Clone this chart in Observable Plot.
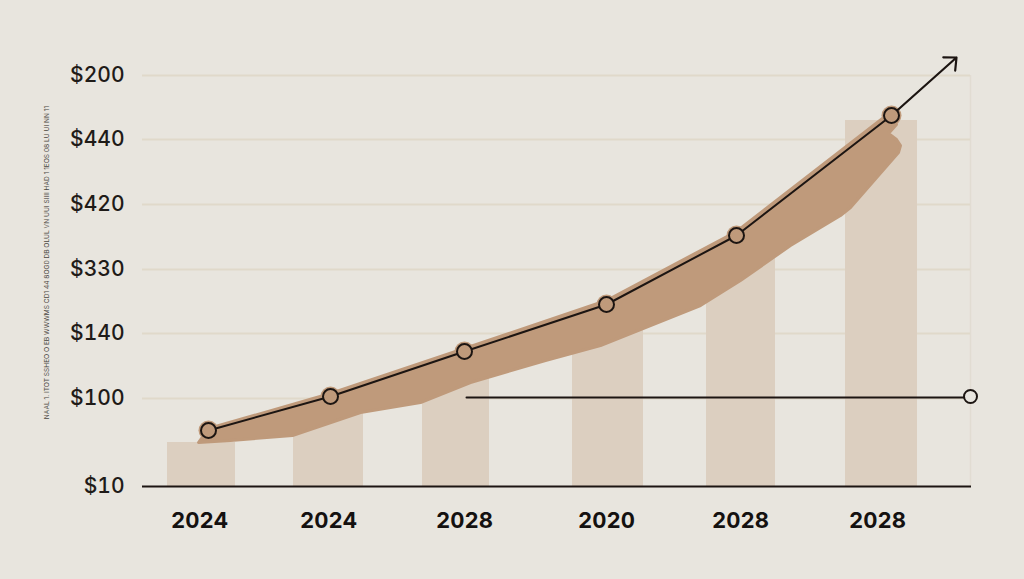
<!DOCTYPE html>
<html>
<head>
<meta charset="utf-8">
<script src="https://cdn.jsdelivr.net/npm/d3@7"></script>
<script src="https://cdn.jsdelivr.net/npm/@observablehq/plot@0.6"></script>
<style>
html,body{margin:0;padding:0;background:#e8e5de;overflow:hidden}
svg{display:block}
</style>
</head>
<body>
<div id="chart"></div>
<script>
// All vertical values are read as height above the baseline; horizontal values as position on the time axis.
const yTicks = [0, 88, 153, 217, 282, 347, 411];
const yLabels = ["$10", "$100", "$140", "$330", "$420", "$440", "$200"];
const xTicks = [199, 328, 464, 606, 740, 877];
const xLabels = ["2024", "2024", "2028", "2020", "2028", "2028"];

const barStart = [167, 293, 422, 572, 706, 845];
const barEnd = [235, 363, 489, 643, 775, 917];
const barValue = [44, 74, 108, 156, 231, 366];

const lineX = [208, 330, 464, 606, 736, 891];
const lineY = [56, 90, 135, 182, 251, 371];

const bandX = [198, 208, 330, 464, 606, 736, 891, 896, 888, 896, 900, 898, 850, 840, 790, 740, 700, 600, 545, 470, 420, 360, 292, 230];
const bandY = [44, 58, 93, 138, 186, 255, 375, 362, 353, 347, 341, 334, 279, 271, 241, 206, 181, 141, 126, 104, 84, 74, 51, 46];

const arrowFrom = [891, 371];
const arrowTo = [956, 429];
const targetX = [466, 970];
const targetY = [89, 89];
const targetDot = [970, 90];
const captionText = "NAAL 1. ITOT SSHEO O EB WWWMS CD1 44 8OG0 DB OLUL VN UUI SIIII HAD 1 1EOS 08 LU UI NN 11";

const barColor = "#dccfc0", bandColor = "#bf9a7b", gridColor = "#e0d9ca", ink = "#1c1512", bg = "#e8e5de";
const font = "Inter, 'Noto Sans', sans-serif";

const bars = barStart.map((s, i) => ({s, e: barEnd[i], v: barValue[i]}));
const line = lineX.map((x, i) => ({x, y: lineY[i]}));
const band = bandX.map((x, i) => ({x, y: bandY[i]}));
const target = targetX.map((x, i) => ({x, y: targetY[i]}));
const yMap = new Map(yTicks.map((t, i) => [t, yLabels[i]]));
const xMap = new Map(xTicks.map((t, i) => [t, xLabels[i]]));

const plot = Plot.plot({
  width: 1024, height: 579,
  marginLeft: 142, marginRight: 54, marginTop: 57, marginBottom: 93,
  x: {domain: [142, 970], axis: null},
  y: {domain: [0, 429], axis: null},
  style: {background: bg, fontFamily: font, overflow: "visible"},
  marks: [
    Plot.ruleX([970], {y1: 0, y2: 411, stroke: "#e1dcd2", strokeWidth: 1.5}),
    Plot.ruleY(yTicks.slice(1), {x1: 142, x2: 970, stroke: gridColor, strokeWidth: 1.8}),
    Plot.rectY(bars, {x1: "s", x2: "e", y1: 0, y2: "v", fill: barColor}),
    Plot.line(band, {x: "x", y: "y", curve: "linear-closed", fill: bandColor, stroke: bandColor, strokeWidth: 3, strokeLinejoin: "round"}),
    Plot.dot(line, {x: "x", y: "y", r: 10, fill: bandColor}),
    Plot.line(target, {x: "x", y: "y", stroke: ink, strokeWidth: 2}),
    Plot.line(line, {x: "x", y: "y", stroke: ink, strokeWidth: 2}),
    Plot.arrow([0], {x1: () => arrowFrom[0], y1: () => arrowFrom[1], x2: () => arrowTo[0], y2: () => arrowTo[1], stroke: ink, strokeWidth: 2.2, headLength: 9, headAngle: 85, bend: 0}),
    Plot.dot(line, {x: "x", y: "y", r: 7.5, fill: bandColor, stroke: ink, strokeWidth: 2}),
    Plot.dot([targetDot], {x: d => d[0], y: d => d[1], r: 6.5, fill: bg, stroke: ink, strokeWidth: 2}),
    Plot.ruleY([0], {x1: 142, x2: 971, stroke: ink, strokeWidth: 2}),
    Plot.axisY({ticks: yTicks, tickFormat: d => yMap.get(d), tickSize: 0, tickPadding: 18, fontSize: 21, fontWeight: 500, fill: "#1f1b18", label: null}),
    Plot.axisX({ticks: xTicks, tickFormat: d => xMap.get(d), tickSize: 0, tickPadding: 26, fontSize: 22, fontWeight: 700, fill: "#141110", label: null}),
    Plot.text([captionText], {x: () => 46, y: () => 224, text: d => d, rotate: -90, fontSize: 6.6, fill: "#4a4541"})
  ]
});
document.getElementById("chart").append(plot);
</script>
</body>
</html>
